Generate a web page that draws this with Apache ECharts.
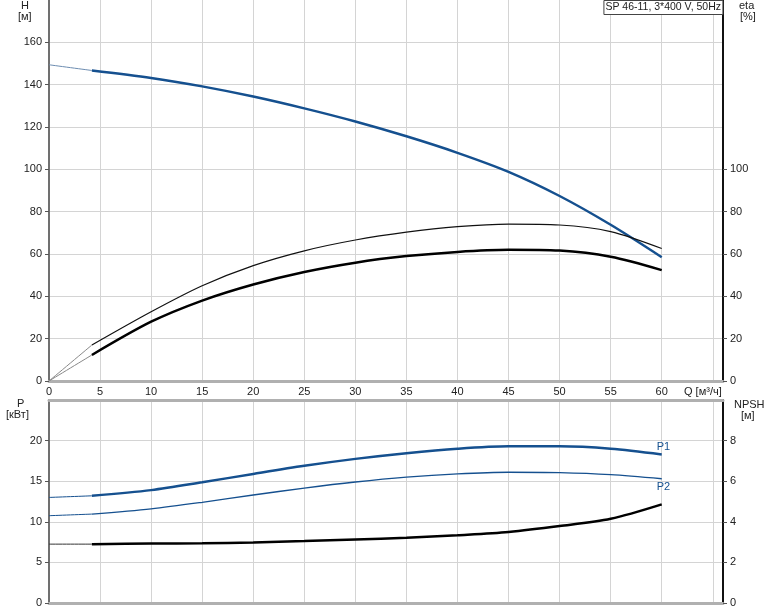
<!DOCTYPE html>
<html><head><meta charset="utf-8">
<script src="https://cdn.jsdelivr.net/npm/echarts@6/dist/echarts.min.js"></script>
<style>html,body{margin:0;padding:0;background:#fff}#c{width:774px;height:611px}</style>
</head><body><div id="c"></div><script>
// ---- data ----
const qStart = [0, 4.2];
const q = [4.2, 10, 15, 20, 25, 30, 35, 40, 45, 50, 55, 60];
const headStart = [149.4, 146.7];
const head = [146.7, 143.2, 139.2, 134.4, 128.8, 122.6, 115.6, 107.8, 98.8, 87.4, 73.8, 58.5];
const etaAStart = [0, 17];
const etaA = [17, 32.7, 45.0, 54.5, 61.5, 66.6, 70.3, 72.9, 74.1, 73.7, 70.6, 62.6];
const etaBStart = [0, 12.3];
const etaB = [12.3, 28.0, 38.0, 45.6, 51.5, 55.9, 59.0, 61.0, 62.0, 61.6, 58.7, 52.4];
const p1Start = [13.0, 13.2];
const p1 = [13.2, 13.9, 14.86, 15.9, 16.9, 17.75, 18.45, 19.0, 19.3, 19.3, 19.0, 18.3];
const p2Start = [10.75, 10.95];
const p2 = [10.95, 11.6, 12.4, 13.3, 14.15, 14.9, 15.5, 15.9, 16.1, 16.05, 15.8, 15.3];
const npshStart = [2.9, 2.9];
const npsh = [2.9, 2.93, 2.94, 2.98, 3.05, 3.13, 3.21, 3.34, 3.5, 3.79, 4.15, 4.86];
const qTicks = [0, 5, 10, 15, 20, 25, 30, 35, 40, 45, 50, 55, 60];
const hTicks = [0, 20, 40, 60, 80, 100, 120, 140, 160];
const etaTicks = [0, 20, 40, 60, 80, 100];
const pTicks = [0, 5, 10, 15, 20];
const npshTicks = [0, 2, 4, 6, 8];
const titleText = 'SP 46-11, 3*400 V, 50Hz';

// ---- chart ----
const FONT = 'Liberation Sans, Arial, sans-serif';
const BLUE = '#15508f';
const GRID = '#d4d4d4';
const pairs = (xs, ys) => xs.map((x, i) => [x, ys[i]]);
const chart = echarts.init(document.getElementById('c'), null, {renderer: 'canvas'});

function line(xs, ys, xi, yi, color, width, extra) {
  return Object.assign({
    type: 'line', xAxisIndex: xi, yAxisIndex: yi, data: pairs(xs, ys),
    showSymbol: false, symbol: 'none', smooth: 0.3, silent: true, animation: false,
    lineStyle: {color: color, width: width}
  }, extra || {});
}
const lbl = {fontFamily: FONT, fontSize: 11, color: '#222'};

chart.setOption({
  animation: false,
  title: {
    text: titleText, right: 51, top: 0, padding: [2, 2],
    borderColor: '#444', borderWidth: 1, backgroundColor: '#fff',
    textStyle: {fontFamily: FONT, fontSize: 10.5, fontWeight: 'normal', color: '#222'}
  },
  grid: [
    {left: 49, right: 51, top: 0, height: 381},
    {left: 49, right: 51, top: 400, height: 203}
  ],
  xAxis: [
    {gridIndex: 0, type: 'value', min: 0, max: 66, interval: 5,
     axisLine: {show: true, onZero: false, lineStyle: {color: '#b0b0b0', width: 3}},
     axisTick: {show: false},
     axisLabel: Object.assign({margin: 5, customValues: qTicks}, lbl),
     splitLine: {show: true, lineStyle: {color: GRID, width: 1}}},
    {gridIndex: 1, type: 'value', min: 0, max: 66, interval: 5, position: 'bottom',
     axisLine: {show: true, onZero: false, lineStyle: {color: '#b0b0b0', width: 3}},
     axisTick: {show: false}, axisLabel: {show: false},
     splitLine: {show: true, lineStyle: {color: GRID, width: 1}}},
    {gridIndex: 1, type: 'value', min: 0, max: 66, interval: 5, position: 'top',
     axisLine: {show: true, onZero: false, lineStyle: {color: '#b0b0b0', width: 3}},
     axisTick: {show: false}, axisLabel: {show: false}, splitLine: {show: false}}
  ],
  yAxis: [
    {gridIndex: 0, type: 'value', min: 0, max: 180, interval: 20, position: 'left',
     axisLine: {show: true, onZero: false, lineStyle: {color: '#707070', width: 2}},
     axisTick: {show: true, length: 4, customValues: hTicks, lineStyle: {color: '#555'}},
     axisLabel: Object.assign({margin: 7, customValues: hTicks}, lbl),
     splitLine: {show: true, lineStyle: {color: GRID, width: 1}}},
    {gridIndex: 0, type: 'value', min: 0, max: 180, interval: 20, position: 'right',
     axisLine: {show: true, onZero: false, lineStyle: {color: '#111', width: 2}},
     axisTick: {show: true, length: 4, customValues: etaTicks, lineStyle: {color: '#555'}},
     axisLabel: Object.assign({margin: 7, customValues: etaTicks}, lbl),
     splitLine: {show: false}},
    {gridIndex: 1, type: 'value', min: 0, max: 25, interval: 5, position: 'left',
     axisLine: {show: true, onZero: false, lineStyle: {color: '#707070', width: 2}},
     axisTick: {show: true, length: 4, customValues: pTicks, lineStyle: {color: '#555'}},
     axisLabel: Object.assign({margin: 7, customValues: pTicks}, lbl),
     splitLine: {show: true, lineStyle: {color: GRID, width: 1}}},
    {gridIndex: 1, type: 'value', min: 0, max: 10, interval: 2, position: 'right',
     axisLine: {show: true, onZero: false, lineStyle: {color: '#111', width: 2}},
     axisTick: {show: true, length: 4, customValues: npshTicks, lineStyle: {color: '#555'}},
     axisLabel: Object.assign({margin: 7, customValues: npshTicks}, lbl),
     splitLine: {show: false}}
  ],
  graphic: [
    {type: 'text', left: 21, top: 0, style: {text: 'H', font: '11px ' + FONT, fill: '#222'}},
    {type: 'text', left: 18, top: 11, style: {text: '[м]', font: '11px ' + FONT, fill: '#222'}},
    {type: 'text', left: 739, top: 0, style: {text: 'eta', font: '11px ' + FONT, fill: '#222'}},
    {type: 'text', left: 740, top: 11, style: {text: '[%]', font: '11px ' + FONT, fill: '#222'}},
    {type: 'text', left: 17, top: 398, style: {text: 'P', font: '11px ' + FONT, fill: '#222'}},
    {type: 'text', left: 6, top: 409, style: {text: '[кВт]', font: '11px ' + FONT, fill: '#222'}},
    {type: 'text', left: 734, top: 399, style: {text: 'NPSH', font: '11px ' + FONT, fill: '#222'}},
    {type: 'text', left: 741, top: 410, style: {text: '[м]', font: '11px ' + FONT, fill: '#222'}},
    {type: 'text', left: 684, top: 386, style: {text: 'Q [м³/ч]', font: '11px ' + FONT, fill: '#222'}}
  ],
  series: [
    line(qStart, headStart, 0, 0, '#6c8cb0', 1),
    line(q, head, 0, 0, BLUE, 2.5),
    line(qStart, etaAStart, 0, 1, '#888', 1),
    line(q, etaA, 0, 1, '#111', 1.2),
    line(qStart, etaBStart, 0, 1, '#888', 1),
    line(q, etaB, 0, 1, '#000', 2.5),
    line(qStart, p1Start, 1, 2, BLUE, 1),
    line(q, p1, 1, 2, BLUE, 2.5, {endLabel: {show: true, formatter: 'P1', offset: [-13, -7], color: BLUE, fontFamily: FONT, fontSize: 11}}),
    line(qStart, p2Start, 1, 2, BLUE, 1),
    line(q, p2, 1, 2, BLUE, 1.3, {endLabel: {show: true, formatter: 'P2', offset: [-13, 8], color: BLUE, fontFamily: FONT, fontSize: 11}}),
    line(qStart, npshStart, 1, 3, '#333', 1),
    line(q, npsh, 1, 3, '#000', 2.5)
  ]
});
</script></body></html>
